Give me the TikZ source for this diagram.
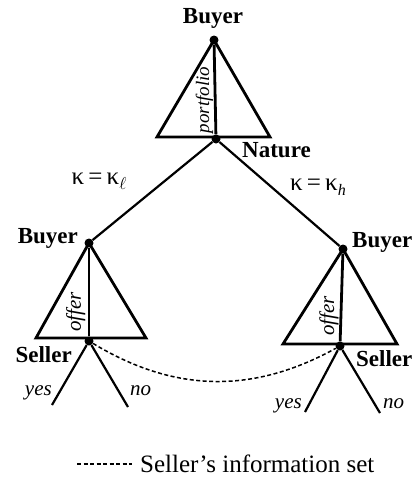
\documentclass[tikz,border=0pt]{standalone}
\usepackage{fontspec}
\setmainfont{Liberation Serif}
\newcommand{\indice}[1]{\raisebox{-0.45ex}{\fontsize{16}{17}\selectfont\itshape #1}}
\begin{document}
\begin{tikzpicture}[
    x=1pt, y=-1pt,
    nodo/.style={circle, fill=black, inner sep=0pt, minimum size=9pt},
    tri/.style={line width=2.8pt, line join=miter},
    rama/.style={line width=2.2pt},
    conjunto/.style={line width=1.5pt, dash pattern=on 4pt off 2.5pt},
    jugador/.style={font=\fontsize{23}{25}\selectfont\bfseries, inner sep=0pt},
    accion/.style={font=\fontsize{21}{23}\selectfont\itshape, inner sep=0pt},
    azar/.style={font=\fontsize{25}{27}\selectfont, inner sep=0pt},
    leyenda/.style={font=\fontsize{25}{27}\selectfont, inner sep=0pt, anchor=base west}
  ]
  % Unidades en píxeles de la figura (417 x 491), eje y hacia abajo.
  \useasboundingbox (0,0) rectangle (417,491);

  % --- nodos de decisión ---
  \foreach \n/\x/\y in {b0/214/40, nat/216/139, b1/89/243, s1/89/341, b2/343/249, s2/340/346}{
    \node[nodo] (\n) at (\x,\y) {};
  }
  % --- vértices de los triángulos y extremos de las ramas ---
  \coordinate (t0i) at (157,137);  \coordinate (t0d) at (270,137);
  \coordinate (t1i) at (36,338);   \coordinate (t1d) at (146,338);
  \coordinate (t2i) at (283,344);  \coordinate (t2d) at (397,344);
  \coordinate (s1y) at (52,405);   \coordinate (s1n) at (128,407);
  \coordinate (s2y) at (305,412);  \coordinate (s2n) at (380,413);

  % --- triángulos de información ---
  \draw[tri] (b0.center) -- (t0i) -- (t0d) -- cycle;
  \draw[tri] (b0) -- (nat);
  \draw[tri] (b1.center) -- (t1i) -- (t1d) -- cycle;
  \draw[tri] (b1) -- (s1);
  \draw[tri] (b2.center) -- (t2i) -- (t2d) -- cycle;
  \draw[tri] (b2) -- (s2);

  % --- ramas ---
  \draw[rama] (nat) -- (b1);
  \draw[rama] (nat) -- (b2);
  \foreach \s in {s1, s2}{
    \draw[rama] (\s) -- (\s y);
    \draw[rama] (\s) -- (\s n);
  }
  % --- conjunto de información del vendedor ---
  \draw[conjunto] (s1) to[bend right=30] (s2);

  % --- rótulos de jugadores ---
  \node[jugador, anchor=base] at (213,23) {Buyer};
  \node[jugador, anchor=base west] at (242,157) {Nature};
  \node[jugador, anchor=base east] at (78,243) {Buyer};
  \node[jugador, anchor=base west] at (352,247) {Buyer};
  \node[jugador, anchor=base east] at (72,362) {Seller};
  \node[jugador, anchor=base west] at (356,366) {Seller};

  % --- acciones ---
  \node[accion, rotate=90, anchor=base, font=\fontsize{19}{21}\selectfont\itshape] at (209,100) {portfolio};
  \node[accion, rotate=90, anchor=base] at (81,312) {offer};
  \node[accion, rotate=90, anchor=base] at (334,316) {offer};
  \node[accion, anchor=base east] at (52,395) {yes};
  \node[accion, anchor=base west] at (130,395) {no};
  \node[accion, anchor=base east] at (302,408) {yes};
  \node[accion, anchor=base west] at (383,408) {no};

  % --- jugadas de la naturaleza ---
  \node[azar] at (99,181) {κ\,=\,κ\indice{$\ell$}};
  \node[azar] at (318,187) {κ\,=\,κ\indice{h}};

  % --- leyenda ---
  \coordinate (l0) at (77,464);
  \coordinate (l1) at (132,464);
  \draw[conjunto] (l0) -- (l1);
  \node[leyenda] at (140,472) {Seller’s information set};
\end{tikzpicture}
\end{document}
